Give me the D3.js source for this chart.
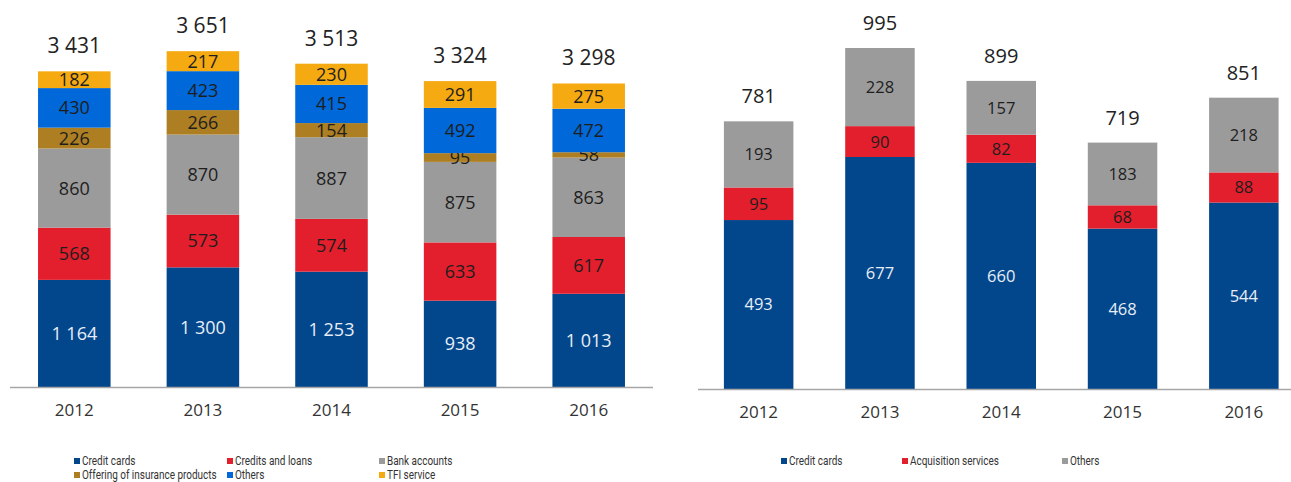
<!DOCTYPE html>
<html>
<head>
<meta charset="utf-8">
<script src="https://cdn.jsdelivr.net/npm/d3@7"></script>
<style>
  body { margin: 0; background: #fff; }
  text { font-family: 'Open Sans', sans-serif; }
  .legend text { font-family: 'Roboto', sans-serif; font-size: 12px; fill: #333; }
  .year { font-size: 17px; fill: #333; }
  .total { fill: #222; }
</style>
</head>
<body>
<div id="viz"></div>
<script>
years = ['2012', '2013', '2014', '2015', '2016'];

// left chart
leftSeries = ['Credit cards', 'Credits and loans', 'Bank accounts', 'Offering of insurance products', 'Others', 'TFI service'];
leftColors = ['#02468c', '#e31f2d', '#9b9b9b', '#ad7f22', '#0068d8', '#f5aa12'];
creditCards = [1164, 1300, 1253, 938, 1013];
creditsLoans = [568, 573, 574, 633, 617];
bankAccounts = [860, 870, 887, 875, 863];
insurance = [226, 266, 154, 95, 58];
others = [430, 423, 415, 492, 472];
tfiService = [182, 217, 230, 291, 275];
leftTotals = [3431, 3651, 3513, 3324, 3298];

// right chart
rightSeries = ['Credit cards', 'Acquisition services', 'Others'];
rightColors = ['#02468c', '#e31f2d', '#9b9b9b'];
rCreditCards = [493, 677, 660, 468, 544];
acquisition = [95, 90, 82, 68, 88];
rOthers = [193, 228, 157, 183, 218];
rightTotals = [781, 995, 899, 719, 851];

fmt = d3.formatLocale({decimal: ',', thousands: ' ', grouping: [3], currency: ['', '']}).format(',d');

svg = d3.select('#viz').append('svg')
	.attr('width', 1291)
	.attr('height', 482);

function drawChart(opts) {
	var rows = years.map(function(y, i){
		var o = {year: y};
		opts.series.forEach(function(s, j){ o[s] = opts.values[j][i]; });
		return o;
	});
	var stacked = d3.stack().keys(opts.series)(rows);

	var x = d3.scaleBand()
		.domain(years)
		.range(opts.xRange)
		.paddingInner(opts.padding)
		.paddingOuter(opts.padding / 2);

	var y = d3.scaleLinear()
		.domain([0, opts.yMax])
		.range(opts.yRange);

	var g = svg.append('g');

	var layers = g.selectAll('g.layer')
		.data(stacked)
		.enter()
		.append('g')
		.attr('class', 'layer')
		.attr('fill', function(d, i){ return opts.colors[i]; });

	layers.selectAll('rect')
		.data(d => d)
		.enter()
		.append('rect')
		.attr('x', d => x(d.data.year))
		.attr('width', x.bandwidth())
		.attr('y', d => y(d[1]))
		.attr('height', d => y(d[0]) - y(d[1]));

	layers.selectAll('text')
		.data(d => d)
		.enter()
		.append('text')
		.attr('x', d => x(d.data.year) + x.bandwidth() / 2)
		.attr('y', d => (y(d[0]) + y(d[1])) / 2)
		.attr('dy', '0.36em')
		.attr('text-anchor', 'middle')
		.style('font-size', opts.segSize + 'px')
		.attr('fill', function(d){
			return this.parentNode.__data__.index == 0 ? '#e8eef6' : '#1e1e1e';
		})
		.text(d => fmt(d[1] - d[0]));

	// totals above each bar
	g.selectAll('text.total')
		.data(years)
		.enter()
		.append('text')
		.attr('class', 'total')
		.attr('x', d => x(d) + x.bandwidth() / 2)
		.attr('y', function(d, i){ return y(stacked[stacked.length - 1][i][1]) - 18; })
		.attr('text-anchor', 'middle')
		.style('font-size', opts.totalSize + 'px')
		.text(function(d, i){ return fmt(opts.totals[i]); });

	// baseline
	g.append('line')
		.attr('x1', opts.axisX[0])
		.attr('x2', opts.axisX[1])
		.attr('y1', y(0) + 0.5)
		.attr('y2', y(0) + 0.5)
		.attr('stroke', '#a6a6a6')
		.attr('stroke-width', 1.5);

	g.selectAll('text.year')
		.data(years)
		.enter()
		.append('text')
		.attr('class', 'year')
		.attr('x', d => x(d) + x.bandwidth() / 2)
		.attr('y', y(0) + 29)
		.attr('text-anchor', 'middle')
		.text(d => d);

	// legend
	var leg = svg.append('g').attr('class', 'legend');
	var items = leg.selectAll('g')
		.data(opts.series)
		.enter()
		.append('g')
		.attr('transform', function(d, i){
			return 'translate(' + opts.legendX[i % opts.legendX.length] + ',' + (461 + Math.floor(i / opts.legendX.length) * 14) + ')';
		});
	items.append('rect')
		.attr('x', 0)
		.attr('y', -3)
		.attr('width', 6)
		.attr('height', 6)
		.attr('fill', function(d, i){ return opts.colors[i]; });
	// narrow the legend type, the original uses a condensed face
	items.append('text')
		.attr('transform', 'translate(8,0) scale(0.83,1)')
		.attr('dy', '0.35em')
		.text(d => d);
}

drawChart({
	series: leftSeries,
	colors: leftColors,
	values: [creditCards, creditsLoans, bankAccounts, insurance, others, tfiService],
	totals: leftTotals,
	xRange: [10, 653],
	padding: 0.436,
	yMax: 3651,
	yRange: [387, 51],
	axisX: [10, 653],
	segSize: 18,
	totalSize: 21,
	legendX: [74, 227, 379]
});

drawChart({
	series: rightSeries,
	colors: rightColors,
	values: [rCreditCards, acquisition, rOthers],
	totals: rightTotals,
	xRange: [698, 1304.5],
	padding: 0.427,
	yMax: 995,
	yRange: [389, 48],
	axisX: [698, 1291],
	segSize: 16.5,
	totalSize: 20,
	legendX: [781, 902, 1062]
});
</script>
</body>
</html>
